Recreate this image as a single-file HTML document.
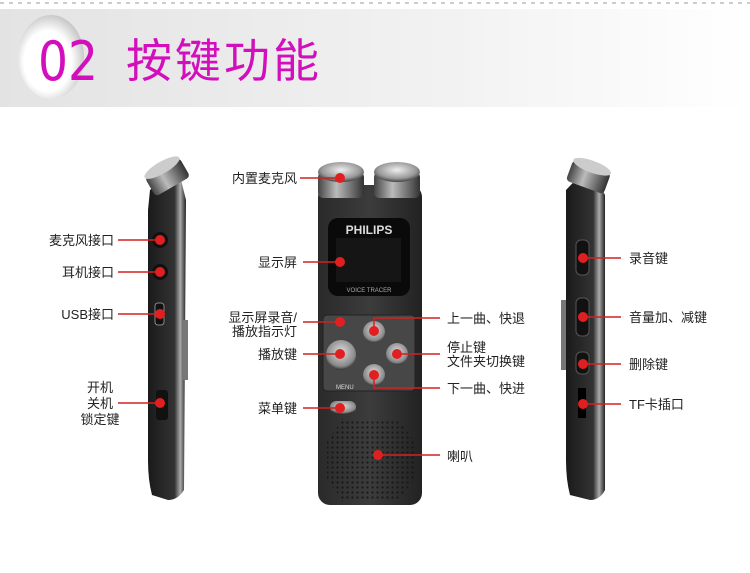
<!DOCTYPE html>
<html><head><meta charset="utf-8"><style>
html,body{margin:0;padding:0;background:#fff;}
svg{display:block;}
text{font-family:"Liberation Sans","Noto Sans CJK SC",sans-serif;font-size:13px;fill:#222;}
</style></head><body>
<svg width="750" height="573" viewBox="0 0 750 573" xmlns="http://www.w3.org/2000/svg">
<defs>
<linearGradient id="hdr" x1="0" x2="1" y1="0" y2="0"><stop offset="0" stop-color="#e3e3e3"/><stop offset="0.6" stop-color="#f2f2f2"/><stop offset="1" stop-color="#ffffff"/></linearGradient>
<radialGradient id="ball" cx="0.45" cy="0.55" r="0.6"><stop offset="0.6" stop-color="#fff"/><stop offset="1" stop-color="#bdbdbd"/></radialGradient>
<linearGradient id="body" x1="0" x2="1"><stop offset="0" stop-color="#2a2a2a"/><stop offset="0.5" stop-color="#3c3c3c"/><stop offset="1" stop-color="#222"/></linearGradient>
<linearGradient id="side" x1="0" x2="1"><stop offset="0" stop-color="#1a1a1a"/><stop offset="0.7" stop-color="#333"/><stop offset="0.85" stop-color="#aaa"/><stop offset="1" stop-color="#222"/></linearGradient>
<linearGradient id="cyl" x1="0" x2="1"><stop offset="0" stop-color="#444"/><stop offset="0.4" stop-color="#bbb"/><stop offset="1" stop-color="#333"/></linearGradient>
<radialGradient id="mic" cx="0.5" cy="0.4" r="0.6"><stop offset="0" stop-color="#eee"/><stop offset="0.7" stop-color="#999"/><stop offset="1" stop-color="#444"/></radialGradient>
<radialGradient id="btn" cx="0.5" cy="0.4" r="0.6"><stop offset="0" stop-color="#ddd"/><stop offset="0.8" stop-color="#888"/><stop offset="1" stop-color="#333"/></radialGradient>
<pattern id="grill" width="5" height="5" patternUnits="userSpaceOnUse"><circle cx="2.5" cy="2.5" r="1.1" fill="#111"/></pattern>
</defs>
<line x1="0" y1="3" x2="750" y2="3" stroke="#bbb" stroke-width="1.5" stroke-dasharray="4,5"/>
<rect x="0" y="9" width="750" height="98" fill="url(#hdr)"/>
<ellipse cx="51" cy="57" rx="33" ry="42" fill="url(#ball)"/>
<text x="38" y="80" style="font-size:54px;fill:#d30fbd;font-family:'DejaVu Sans Condensed','Liberation Sans',sans-serif;font-weight:200" textLength="60" lengthAdjust="spacingAndGlyphs">02</text>
<text x="126" y="77" style="font-size:46px;fill:#d30fbd" textLength="193">按键功能</text>

<!-- left device -->
<path d="M150 190 L178 168 L186 200 L184 490 Q178 500 168 500 L152 495 Q148 480 148 460 L148 210 Z" fill="url(#side)"/>
<g transform="rotate(-30 168 178)"><rect x="148" y="166" width="40" height="22" rx="4" fill="url(#cyl)"/><ellipse cx="168" cy="166" rx="20" ry="6" fill="#ccc"/></g>
<rect x="183" y="320" width="5" height="60" fill="#777"/>
<circle cx="160" cy="240" r="8" fill="#111"/><circle cx="160" cy="272" r="8" fill="#111"/>
<rect x="155" y="303" width="9" height="22" rx="3" fill="#111" stroke="#888"/>
<rect x="156" y="390" width="12" height="30" rx="3" fill="#111"/>

<!-- center device -->
<rect x="318" y="185" width="104" height="320" rx="12" fill="url(#body)"/>
<rect x="318" y="172" width="46" height="26" rx="5" fill="url(#cyl)"/><ellipse cx="341" cy="172" rx="23" ry="10" fill="url(#mic)"/>
<rect x="374" y="172" width="46" height="26" rx="5" fill="url(#cyl)"/><ellipse cx="397" cy="172" rx="23" ry="10" fill="url(#mic)"/>
<rect x="328" y="218" width="82" height="78" rx="10" fill="#0a0a0a"/>
<text x="369" y="234" style="font-size:12px;font-weight:bold;fill:#ddd" text-anchor="middle">PHILIPS</text>
<rect x="336" y="238" width="65" height="44" fill="#151515"/>
<text x="369" y="292" style="font-size:6px;fill:#aaa" text-anchor="middle">VOICE TRACER</text>
<rect x="323" y="315" width="92" height="76" rx="4" fill="#474747" stroke="#222"/>
<text x="336" y="389" style="font-size:6px;fill:#ddd">MENU</text>
<circle cx="341" cy="355" r="15" fill="url(#btn)"/>
<circle cx="374" cy="332" r="11" fill="url(#btn)"/><circle cx="397" cy="354" r="11" fill="url(#btn)"/><circle cx="374" cy="375" r="11" fill="url(#btn)"/>
<rect x="330" y="401" width="26" height="13" rx="6" fill="url(#btn)"/>
<polygon points="343,420 398,420 414,440 414,480 398,500 343,500 327,480 327,440" fill="url(#grill)" opacity="0.8"/>

<!-- right device -->
<path d="M566 190 L590 165 L605 195 L605 490 Q600 500 590 500 L570 495 Q566 480 566 460 Z" fill="url(#side)"/>
<g transform="rotate(20 588 178)"><rect x="568" y="166" width="40" height="22" rx="4" fill="url(#cyl)"/><ellipse cx="588" cy="166" rx="20" ry="6" fill="#ccc"/></g>
<rect x="561" y="300" width="5" height="70" fill="#777"/>
<rect x="576" y="240" width="13" height="35" rx="5" fill="#111" stroke="#555"/>
<rect x="576" y="298" width="13" height="38" rx="5" fill="#111" stroke="#555"/>
<rect x="576" y="352" width="13" height="22" rx="5" fill="#111" stroke="#555"/>
<rect x="578" y="388" width="8" height="30" fill="#000"/>

<!-- connectors -->
<g stroke="#d42020" stroke-width="1.5" fill="none">
<line x1="118" y1="240" x2="160" y2="240"/><line x1="118" y1="272" x2="160" y2="272"/>
<line x1="118" y1="314" x2="160" y2="314"/><line x1="118" y1="403" x2="160" y2="403"/>
<line x1="300" y1="178" x2="340" y2="178"/><line x1="303" y1="262" x2="340" y2="262"/>
<line x1="303" y1="322" x2="340" y2="322"/><line x1="303" y1="354" x2="340" y2="354"/>
<line x1="303" y1="408" x2="340" y2="408"/>
<polyline points="374,331 374,318 440,318"/><line x1="397" y1="354" x2="440" y2="354"/>
<polyline points="374,375 374,388 440,388"/><line x1="378" y1="455" x2="440" y2="455"/>
<line x1="583" y1="258" x2="621" y2="258"/><line x1="583" y1="317" x2="621" y2="317"/>
<line x1="583" y1="364" x2="621" y2="364"/><line x1="583" y1="404" x2="621" y2="404"/>
</g>
<g fill="#e02020">
<circle cx="160" cy="240" r="5"/><circle cx="160" cy="272" r="5"/><circle cx="160" cy="314" r="5"/><circle cx="160" cy="403" r="5"/>
<circle cx="340" cy="178" r="5"/><circle cx="340" cy="262" r="5"/><circle cx="340" cy="322" r="5"/><circle cx="340" cy="354" r="5"/><circle cx="340" cy="408" r="5"/>
<circle cx="374" cy="331" r="5"/><circle cx="397" cy="354" r="5"/><circle cx="374" cy="375" r="5"/><circle cx="378" cy="455" r="5"/>
<circle cx="583" cy="258" r="5"/><circle cx="583" cy="317" r="5"/><circle cx="583" cy="364" r="5"/><circle cx="583" cy="404" r="5"/>
</g>
<!-- labels -->
<g text-anchor="end">
<text x="114" y="245">麦克风接口</text><text x="114" y="277">耳机接口</text><text x="114" y="319">USB接口</text>
<text x="297" y="183">内置麦克风</text><text x="297" y="267">显示屏</text>
<text x="297" y="322">显示屏录音/</text><text x="297" y="336">播放指示灯</text>
<text x="297" y="359">播放键</text><text x="297" y="413">菜单键</text>
</g>
<g text-anchor="middle"><text x="100" y="392">开机</text><text x="100" y="408">关机</text><text x="100" y="424">锁定键</text></g>
<text x="447" y="323">上一曲、快退</text><text x="447" y="352">停止键</text><text x="447" y="366">文件夹切换键</text>
<text x="447" y="393">下一曲、快进</text><text x="447" y="461">喇叭</text>
<text x="629" y="263">录音键</text><text x="629" y="322">音量加、减键</text><text x="629" y="369">删除键</text><text x="629" y="409">TF卡插口</text>
</svg>
</body></html>
